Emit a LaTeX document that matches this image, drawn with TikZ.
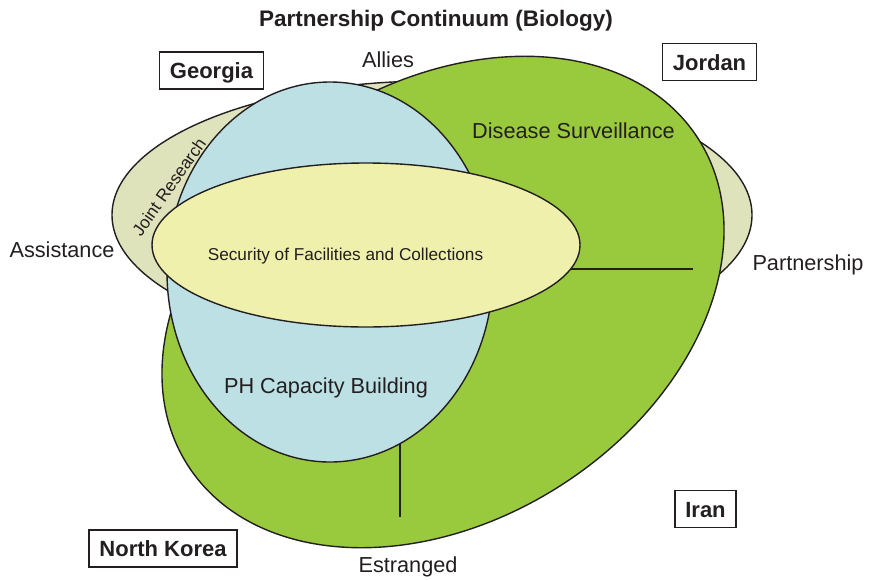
\documentclass[tikz,border=0pt]{standalone}
\usepackage{fontspec}
\setmainfont{Liberation Sans}
\usetikzlibrary{shapes.geometric}
\definecolor{txt}{HTML}{231F20}
\definecolor{palec}{HTML}{DFE3BB}
\definecolor{greenc}{HTML}{99C93C}
\definecolor{bluec}{HTML}{BDE0E4}
\definecolor{yellc}{HTML}{EEF0AC}
\begin{document}
\begin{tikzpicture}[x=1pt,y=-1pt,
  blob/.style={ellipse, draw=txt, line width=1.4pt, inner sep=0pt, outer sep=0pt},
  lbl/.style={font=\fontsize{21.7}{24}\selectfont, text=txt, anchor=base, inner sep=0pt},
  inlbl/.style={font=\fontsize{21.7}{24}\selectfont, text=txt, anchor=base, inner sep=0pt},
  small/.style={font=\fontsize{17.2}{20}\selectfont, text=txt, inner sep=0pt},
  tag/.style={draw=txt, line width=1.4pt, font=\bfseries\fontsize{22}{24}\selectfont, text=txt,
              minimum height=37pt, inner xsep=10.5pt, inner ysep=0pt, text height=16pt, text depth=0pt},
  axisline/.style={draw=txt, line width=1.4pt}]
\useasboundingbox (0,0) rectangle (870,579);

% shapes
\node[blob, fill=palec, minimum width=640pt, minimum height=268pt] (pale) at (432,215) {};
\node[blob, fill=greenc, minimum width=606pt, minimum height=436pt, rotate=32.6] (green) at (443,302) {};
\coordinate (h1) at (560,269);
\coordinate (h2) at (693,269);
\coordinate (v1) at (400,430);
\coordinate (v2) at (400,517);
\draw[axisline] (h1) -- (h2);
\draw[axisline] (v1) -- (v2);
\node[blob, fill=bluec, minimum width=326pt, minimum height=380pt] (blue) at (330,272) {};
\node[blob, fill=yellc, minimum width=428pt, minimum height=164pt] (yellow) at (366,245) {};

% title
\node[font=\bfseries\fontsize{22.5}{26}\selectfont, text=txt, anchor=base, inner sep=0pt] (title) at (436,26) {Partnership Continuum (Biology)};

% axis labels
\node[lbl] (allies) at (388,67) {Allies};
\node[lbl] (assist) at (62,257) {Assistance};
\node[lbl] (partner) at (808,270) {Partnership};
\node[lbl] (estr) at (408,572) {Estranged};

% region labels
\node[inlbl] (dis) at (573.5,138) {Disease Surveillance};
\node[inlbl] (ph) at (326,393) {PH Capacity Building};
\node[small, anchor=base] (sec) at (345.5,260) {Security of Facilities and Collections};
\node[small, rotate=55] (joint) at (169,187) {Joint Research};

% country tags
\node[tag] (georgia) at (211.5,70.5) {Georgia};
\node[tag] (jordan) at (709.5,62) {Jordan};
\node[tag] (nk) at (163,548.5) {North Korea};
\node[tag] (iran) at (705.5,509) {Iran};
\end{tikzpicture}
\end{document}
